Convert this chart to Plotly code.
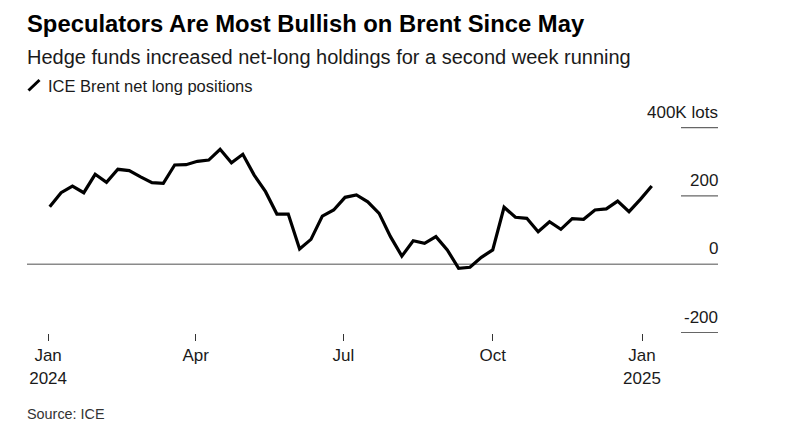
import pandas as pd
import plotly.graph_objects as go

# Weekly ICE Brent net long positions (thousand lots)
dates = pd.date_range("2024-01-02", periods=54, freq="7D")
net_long = [168.6, 209.5, 229, 209.5, 263.4, 240, 278, 274, 256, 239,
            237, 290.6, 291.5, 301.4, 305, 336.5, 297.3, 322, 261, 212.5,
            147, 147, 44.8, 73, 141, 159, 196, 203, 183, 149,
            81, 24, 69, 61.5, 81, 42, -11.7, -8.8, 20.5, 42,
            167, 137.5, 134.6, 95.4, 124.7, 102.4, 133.5, 131.7, 159, 162,
            185, 154, 190, 229]

y_ticks = [400, 200, 0, -200]
y_tick_labels = ["400K lots", "200", "0", "-200"]
x_tickvals = ["2024-01-01", "2024-04-01", "2024-07-01", "2024-10-01", "2025-01-01"]
x_ticktext = ["Jan<br>2024", "Apr", "Jul", "Oct", "Jan<br>2025"]

OFF = 8  # page body margin offset
W, H = 790, 439
L = 27 - OFF
R = W - (718 - OFF)
T = 100 - OFF
B = H - (333 - OFF)
PW, PH = W - L - R, H - T - B

def px_x(px):
    return (px - OFF - L) / PW

def px_y(py):
    return (H - B - (py - OFF)) / PH

FONT = "Liberation Sans, Arial, sans-serif"

fig = go.Figure()
fig.add_trace(go.Scatter(
    x=dates, y=net_long, mode="lines",
    line=dict(color="#000000", width=3.2),
    name="ICE Brent net long positions", showlegend=False,
    hoverinfo="skip",
))

shapes = []
shapes.append(dict(type="line", xref="paper", yref="y", x0=0, x1=1, y0=0, y1=0,
                   line=dict(color="#8a8a8a", width=1.6), layer="below"))
annotations = []
for v, lab in zip(y_ticks, y_tick_labels):
    if v != 0:
        shapes.append(dict(type="line", xref="paper", yref="y", x0=px_x(681), x1=1,
                           y0=v, y1=v, line=dict(color="#666666", width=1.2), layer="below"))
    annotations.append(dict(xref="paper", yref="y", x=1, y=v, text=lab, showarrow=False,
                            xanchor="right", yanchor="bottom", yshift=4, xshift=2,
                            font=dict(family=FONT, size=17, color="#1a1a1a")))

shapes.append(dict(type="line", xref="paper", yref="paper",
                   x0=px_x(28.5), y0=px_y(90.5), x1=px_x(39.5), y1=px_y(80),
                   line=dict(color="#000000", width=3)))

annotations += [
    dict(xref="paper", yref="paper", x=px_x(25), y=px_y(23), xanchor="left", yanchor="middle",
         text="<b>Speculators Are Most Bullish on Brent Since May</b>", showarrow=False,
         font=dict(family=FONT, size=23.8, color="#000000")),
    dict(xref="paper", yref="paper", x=px_x(25), y=px_y(57), xanchor="left", yanchor="middle",
         text="Hedge funds increased net-long holdings for a second week running", showarrow=False,
         font=dict(family=FONT, size=20, color="#1a1a1a")),
    dict(xref="paper", yref="paper", x=px_x(46), y=px_y(86), xanchor="left", yanchor="middle",
         text="ICE Brent net long positions", showarrow=False,
         font=dict(family=FONT, size=16.5, color="#1a1a1a")),
    dict(xref="paper", yref="paper", x=px_x(25), y=px_y(414), xanchor="left", yanchor="middle",
         text="Source: ICE", showarrow=False,
         font=dict(family=FONT, size=14.4, color="#333333")),
]

fig.update_layout(
    width=W, height=H,
    margin=dict(l=L, r=R, t=T, b=B, pad=0),
    paper_bgcolor="white", plot_bgcolor="white",
    shapes=shapes, annotations=annotations,
    showlegend=False,
    xaxis=dict(
        type="date",
        range=["2023-12-19", "2025-02-16 20:00"],
        tickvals=x_tickvals, ticktext=x_ticktext,
        ticks="outside", ticklen=7, tickwidth=1, tickcolor="#333333",
        showgrid=False, zeroline=False, showline=False,
        tickfont=dict(family=FONT, size=17, color="#1a1a1a"),
    ),
    yaxis=dict(
        range=[(264.3 - 333) / 0.3417, (264.3 - 100) / 0.3417],
        showgrid=False, zeroline=False, showticklabels=False, ticks="",
        showline=False,
    ),
)

fig.write_html("out.html")
